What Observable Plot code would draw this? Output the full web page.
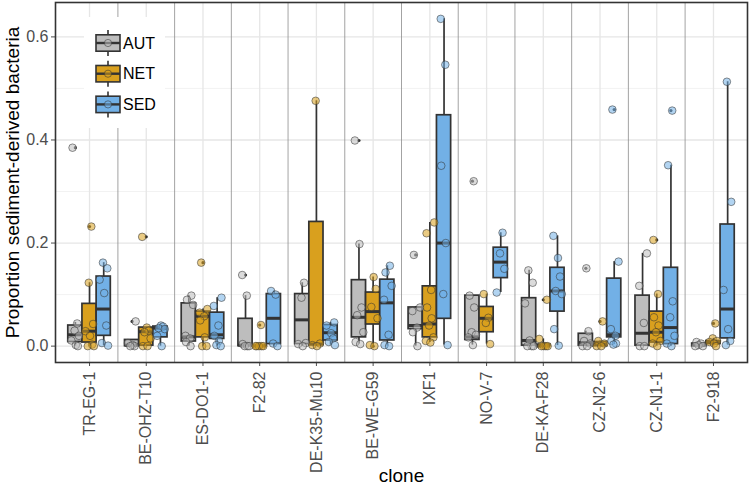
<!DOCTYPE html>
<html><head><meta charset="utf-8">
<script src="https://cdn.jsdelivr.net/npm/d3@7"></script>
<script src="https://cdn.jsdelivr.net/npm/@observablehq/plot@0.6"></script>
<style>
body{margin:0;background:#fff;}
#wrap{position:relative;width:750px;height:490px;font-family:"Liberation Sans",Arial,sans-serif;}
#legend{position:absolute;left:84px;top:17px;width:81px;height:111px;background:#fff;}
</style></head><body><div id="wrap"></div>
<script>
const clones = ["TR-EG-1","BE-OHZ-T10","ES-DO1-1","F2-82","DE-K35-Mu10","BE-WE-G59","IXF1","NO-V-7","DE-KA-F28","CZ-N2-6","CZ-N1-1","F2-918"];
const treatments = ["AUT","NET","SED"];
const colors = ["#bdbdbd","#d9a01e","#72b0e6"];
const yTicks = [0, 0.2, 0.4, 0.6];
const yMinor = [0.1, 0.3, 0.5];
const yTitle = "Proportion sediment-derived bacteria";
const xTitle = "clone";

// box statistics per clone: [lower whisker, q1, median, q3, upper whisker]
const autBox = [
  [0.0,0.008,0.022,0.040,0.046],[0.0,0.0,0.002,0.012,0.012],[0.0,0.009,0.018,0.083,0.098],
  [0.0,0.0,0.002,0.053,0.098],[0.0,0.004,0.051,0.101,0.123],[0.004,0.017,0.056,0.128,0.198],
  [0.0,0.033,0.040,0.075,0.077],[0.002,0.012,0.018,0.098,0.098],[0.0,0.001,0.011,0.093,0.147],
  [0.0,0.001,0.007,0.024,0.029],[0.0,0.001,0.025,0.098,0.180],[0.0,0.0,0.002,0.005,0.008]];
const netBox = [
  [0.0,0.007,0.029,0.082,0.123],[0.0,0.001,0.028,0.036,0.036],[0.0,0.017,0.058,0.067,0.072],
  [0.0,0.0,0.0,0.001,0.001],[0.0,0.002,0.004,0.241,0.476],[0.002,0.042,0.067,0.104,0.134],
  [0.007,0.017,0.043,0.116,0.240],[0.004,0.027,0.054,0.076,0.101],[0.0,0.0,0.0,0.003,0.014],
  [0.0,0.0,0.003,0.008,0.010],[0.0,0.007,0.027,0.067,0.101],[0.0,0.004,0.007,0.010,0.015]];
const sedBox = [
  [0.001,0.020,0.072,0.135,0.162],[0.0,0.017,0.035,0.038,0.040],[0.0,0.014,0.022,0.065,0.094],
  [0.0,0.004,0.054,0.101,0.107],[0.002,0.011,0.026,0.041,0.046],[0.0,0.011,0.084,0.129,0.156],
  [0.002,0.053,0.200,0.448,0.635],[0.104,0.132,0.163,0.191,0.220],[0.001,0.067,0.107,0.152,0.214],
  [0.003,0.017,0.022,0.131,0.164],[0.0,0.004,0.036,0.152,0.351],[0.002,0.015,0.072,0.236,0.513]];

// individual replicate values per clone
const autPoints = [
  [0.385,0.044,0.030,0.020,0.011,0.002,0.0],[0.048,0.006,0.002,0.0,0.0],[0.098,0.090,0.080,0.020,0.015,0.008,0.0],
  [0.138,0.098,0.004,0.0,0.0,0.0],[0.123,0.094,0.006,0.004,0.0],[0.399,0.198,0.075,0.060,0.027,0.008,0.004],
  [0.177,0.075,0.068,0.036,0.027,0.0],[0.320,0.098,0.075,0.027,0.022,0.017,0.002],[0.147,0.123,0.083,0.011,0.0,0.0,0.0],
  [0.151,0.029,0.010,0.005,0.0,0.0],[0.180,0.117,0.045,0.0,0.0],[0.008,0.005,0.002,0.0,0.0]];
const netPoints = [
  [0.232,0.123,0.043,0.029,0.020,0.003,0.0,0.0],[0.212,0.036,0.030,0.027,0.015,0.0,0.0],[0.162,0.072,0.065,0.058,0.050,0.017,0.0,0.0],
  [0.041,0.0,0.0,0.0,0.0,0.0],[0.476,0.005,0.002,0.0],[0.134,0.111,0.076,0.054,0.002,0.0],
  [0.240,0.219,0.109,0.075,0.054,0.040,0.017,0.010,0.007],[0.101,0.055,0.045,0.004],[0.090,0.014,0.0,0.0,0.0,0.0],
  [0.048,0.010,0.005,0.0,0.0],[0.206,0.101,0.056,0.040,0.027,0.010,0.005,0.0],[0.044,0.015,0.010,0.008,0.005,0.0]];
const sedPoints = [
  [0.162,0.151,0.129,0.103,0.040,0.006,0.001],[0.040,0.038,0.035,0.033,0.020,0.0],[0.094,0.078,0.040,0.020,0.010,0.002,0.0],
  [0.107,0.100,0.005,0.0],[0.046,0.040,0.025,0.015,0.008,0.002],[0.156,0.143,0.117,0.090,0.022,0.002,0.0],
  [0.635,0.546,0.350,0.200,0.101,0.002],[0.220,0.180,0.150,0.104],[0.214,0.171,0.135,0.107,0.101,0.033,0.001],
  [0.459,0.164,0.033,0.020,0.010,0.005,0.003],[0.457,0.351,0.087,0.056,0.020,0.005,0.0],[0.513,0.280,0.109,0.033,0.010,0.002]];

const boxStats = {AUT: autBox, NET: netBox, SED: sedBox};
const pointValues = {AUT: autPoints, NET: netPoints, SED: sedPoints};
const jitter = [-0.55,0.35,-0.15,0.7,-0.8,0.1,0.5,-0.35,0.85,-0.65,0.25];

const boxes = [], points = [];
clones.forEach((c, i) => treatments.forEach((t, j) => {
  const pos = i + (j - 1) * 0.25;
  const b = boxStats[t][i];
  boxes.push({clone: c, treatment: t, pos, x1: pos - 0.125, x2: pos + 0.125, lo: b[0], q1: b[1], med: b[2], q3: b[3], hi: b[4]});
  pointValues[t][i].forEach((v, k) => points.push({
    clone: c, treatment: t, pos,
    jx: pos + jitter[(k + i * 3 + j) % jitter.length] * 0.09,
    value: v, outlier: v > b[4] + 1e-9 || v < b[0] - 1e-9
  }));
}));

const ymax = d3.max(points, d => d.value);
const pad = 0.05 * ymax;

const chart = Plot.plot({
  width: 750, height: 490,
  marginLeft: 55, marginRight: 3, marginTop: 2, marginBottom: 128,
  style: {fontFamily: "Liberation Sans, Arial, sans-serif", fontSize: "16px", color: "#4d4d4d", background: "white"},
  x: {domain: [-0.6, clones.length - 0.4], ticks: d3.range(clones.length), tickFormat: i => clones[i],
      tickRotate: -90, tickSize: 4, tickPadding: 5, label: null},
  y: {domain: [-pad, ymax + pad], ticks: yTicks, tickFormat: d => d.toFixed(1), tickSize: 4, tickPadding: 3, label: null},
  color: {domain: treatments, range: colors},
  marks: [
    Plot.ruleY(yMinor, {stroke: "#ececec", strokeWidth: 0.7}),
    Plot.ruleY(yTicks, {stroke: "#e6e6e6", strokeWidth: 1.3}),
    Plot.ruleX(d3.range(clones.length), {stroke: "#e6e6e6", strokeWidth: 1.3}),
    Plot.ruleX(d3.range(clones.length - 1).map(i => i + 0.5), {stroke: "#8c8c8c", strokeWidth: 0.8}),
    Plot.ruleX(boxes, {x: "pos", y1: "lo", y2: "hi", stroke: "#333", strokeWidth: 1.7}),
    Plot.rect(boxes, {x1: "x1", x2: "x2", y1: "q1", y2: "q3", fill: "treatment", stroke: "#333", strokeWidth: 1.7}),
    Plot.ruleY(boxes, {y: "med", x1: "x1", x2: "x2", stroke: "#333", strokeWidth: 3}),
    Plot.dot(points.filter(d => d.outlier), {x: "pos", y: "value", r: 1.6, fill: "#333", stroke: null}),
    Plot.dot(points, {x: "jx", y: "value", r: 3.8, fill: "treatment", fillOpacity: 0.55, stroke: "#333", strokeOpacity: 0.6, strokeWidth: 0.9}),
    Plot.frame({stroke: "#333", strokeWidth: 1.6}),
    Plot.text([yTitle], {text: d => d, frameAnchor: "left", textAnchor: "middle", rotate: -90, dx: -43, fontSize: 19, fill: "black"}),
    Plot.text([xTitle], {text: d => d, frameAnchor: "bottom", dy: 119, fontSize: 19, fill: "black"})
  ]
});
const wrap = document.getElementById("wrap");
wrap.appendChild(chart);

// legend (inside panel, top-left)
const legend = d3.select(wrap).append("div").attr("id", "legend");
const lsvg = legend.append("svg").attr("width", 81).attr("height", 111);
treatments.forEach((t, j) => {
  const cy = 26 + j * 30.7;
  const g = lsvg.append("g");
  g.append("line").attr("x1", 24).attr("x2", 24).attr("y1", cy - 13).attr("y2", cy + 13).attr("stroke", "#333").attr("stroke-width", 1.6);
  g.append("rect").attr("x", 12).attr("y", cy - 8.2).attr("width", 24).attr("height", 16.4)
    .attr("fill", colors[j]).attr("stroke", "#333").attr("stroke-width", 1.6);
  g.append("line").attr("x1", 12).attr("x2", 36).attr("y1", cy).attr("y2", cy).attr("stroke", "#333").attr("stroke-width", 2.4);
  g.append("circle").attr("cx", 24).attr("cy", cy).attr("r", 3.6).attr("fill", colors[j]).attr("fill-opacity", 0.55)
    .attr("stroke", "#333").attr("stroke-opacity", 0.6).attr("stroke-width", 0.9);
  g.append("text").attr("x", 39).attr("y", cy).attr("dy", "0.36em").attr("font-size", 16)
    .attr("font-family", "Liberation Sans, Arial, sans-serif").attr("fill", "black").text(t);
});
</script>
</body></html>
